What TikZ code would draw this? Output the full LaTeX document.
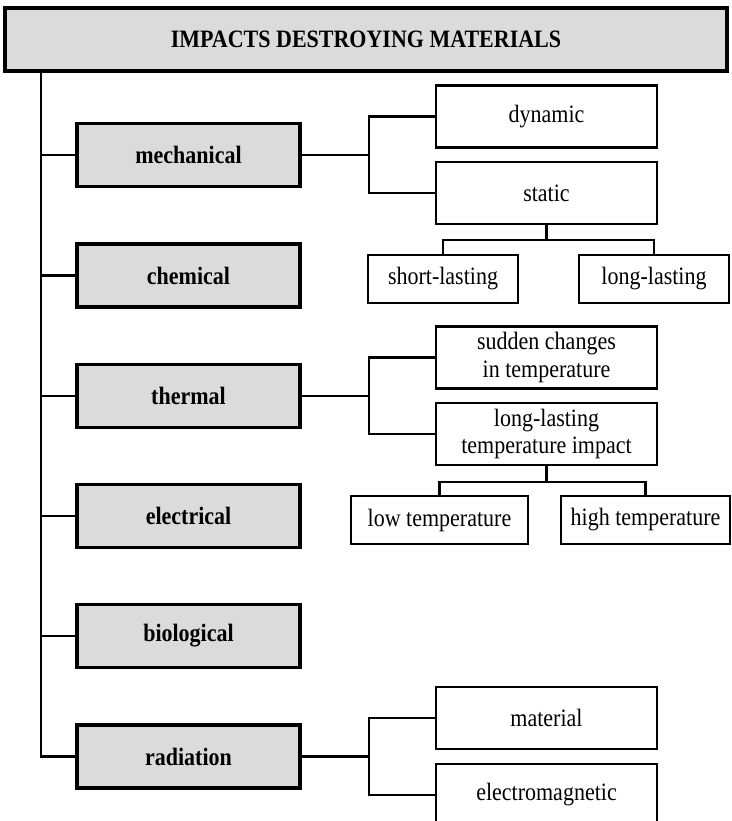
\documentclass[tikz,border=0pt]{standalone}
\usepackage{fontspec}
\setmainfont{Liberation Serif}[FakeStretch=0.88]
\tikzset{
  titlebox/.style={draw, line width=4pt, fill=black!14, minimum width=722pt, minimum height=63pt, font=\fontsize{25}{28}\selectfont\bfseries},
  kindbox/.style={draw, line width=3.5pt, fill=black!14, minimum width=223pt, minimum height=63pt, font=\fontsize{25}{28}\selectfont\bfseries},
  subbox/.style={draw, line width=2.5pt, fill=white, minimum width=221pt, minimum height=62pt, align=center, font=\fontsize{25}{27.5}\selectfont},
  leafbox/.style={draw, line width=2.5pt, fill=white, inner sep=0pt, minimum height=48pt, font=\fontsize{25}{28}\selectfont},
  link/.style={line width=2.2pt}
}
\begin{document}
\begin{tikzpicture}[x=1pt, y=-1pt]
    \clip (0,0) rectangle (731,821);
    \fill[white] (0,0) rectangle (731,821);
    \node[titlebox] (title) at (366,39.5) {IMPACTS DESTROYING MATERIALS};
    \node[kindbox] (mech) at (188.5,155) {mechanical};
    \node[kindbox] (chem) at (188.5,275.5) {chemical};
    \node[kindbox] (therm) at (188.5,396) {thermal};
    \node[kindbox] (elec) at (188.5,516) {electrical};
    \node[kindbox] (bio) at (188.5,636) {biological};
    \node[kindbox] (rad) at (188.5,756.5) {radiation};
    \node[subbox] (dyn) at (546.5,116.5) {dynamic};
    \node[subbox] (stat) at (546.5,193) {static};
    \node[subbox] (sudden) at (546.5,357.5) {sudden changes\\in temperature};
    \node[subbox] (longimp) at (546.5,434) {long-lasting\\temperature impact};
    \node[subbox] (matr) at (546.5,718) {material};
    \node[subbox] (emag) at (546.5,795) {electromagnetic};
    \node[leafbox, minimum width=150pt] (short) at (443,279) {short-lasting};
    \node[leafbox, minimum width=150pt] (longl) at (654,279) {long-lasting};
    \node[leafbox, minimum width=177pt] (lowt) at (439.5,520) {low temperature};
    \node[leafbox, minimum width=169pt] (hight) at (645.5,520) {high temperature};
    \path (title.south west) ++(38,0) coordinate (trunk);
    \draw[link] (trunk) |- (rad.west);
    \foreach \k in {mech, chem, therm, elec, bio}
        \draw[link] (trunk |- \k.west) -- (\k.west);
    \draw[link] (mech.east) -- ++(67,0) coordinate (mechfork);
    \draw[link] (dyn.west) -| (mechfork) |- (stat.west);
    \draw[link] (therm.east) -- ++(67,0) coordinate (thermfork);
    \draw[link] (sudden.west) -| (thermfork) |- (longimp.west);
    \draw[link] (rad.east) -- ++(67,0) coordinate (radfork);
    \draw[link] (matr.west) -| (radfork) |- (emag.west);
    \draw[link] (stat.south) -- ++(0,15) coordinate (statfork);
    \draw[link] (short.north) |- (statfork) -| (longl.north);
    \draw[link] (longimp.south) -- ++(0,16) coordinate (impfork);
    \draw[link] (lowt.north) |- (impfork) -| (hight.north);
\end{tikzpicture}
\end{document}
